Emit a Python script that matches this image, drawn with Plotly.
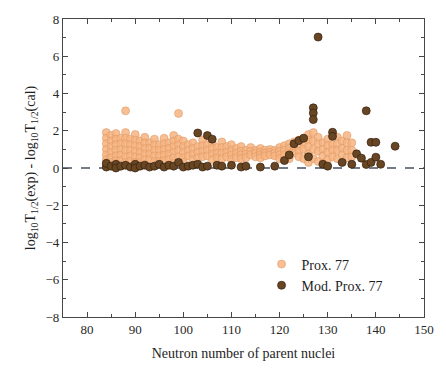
import plotly.graph_objects as go

# Prox. 77 : neutron number and deviation values
prox_n = [84,84,84,84,84,84,84, 85,85,85,85,85,85, 86,86,86,86,86,86,86, 87,87,87,87,87,
          88,88,88,88,88,88,88, 89,89,89,89,89, 90,90,90,90,90,90, 91,91,91,91,91,
          92,92,92,92,92,92, 93,93,93,93, 94,94,94,94,94, 95,95,95,95, 96,96,96,96,96,
          97,97,97,97, 98,98,98,98,98,98, 99,99,99,99,99, 100,100,100,100,100,
          101,101,101, 102,102,102,102, 103,103,103, 104,104,104,104, 105,105,105,
          106,106,106,106, 107,107,107, 108,108,108,108, 109,109,109,
          110,110,110,110, 111,111,111, 112,112,112,112, 113,113,113, 114,114,114,
          115,115,115, 116,116,116,116, 117,117,117, 118,118,118, 119,119,119,
          120,120,120,120, 121,121,121, 122,122,122,122, 123,123,123,
          124,124,124,124, 125,125,125,125, 126,126,126,126,126, 127,127,127,127,
          128,128,128,128, 129,129,129,129, 130,130,130,130, 131,131,131,
          132,132,132,132, 133,133,133, 134,134,134,134, 135,135,135]
prox_y = [1.9,1.6,1.3,1.0,0.7,0.45,0.2, 1.75,1.45,1.15,0.85,0.55,0.3, 1.85,1.55,1.25,0.95,0.65,0.4,0.15, 1.6,1.3,1.0,0.7,0.4,
          3.07,1.9,1.6,1.3,0.95,0.6,0.3, 1.55,1.25,0.95,0.65,0.35, 1.8,1.5,1.2,0.9,0.6,0.3, 1.45,1.15,0.85,0.55,0.3,
          1.65,1.35,1.05,0.75,0.45,0.2, 1.35,1.05,0.75,0.45, 1.55,1.25,0.95,0.65,0.35, 1.25,0.95,0.65,0.35, 1.6,1.3,1.0,0.7,0.4,
          1.35,1.05,0.75,0.45, 1.75,1.45,1.15,0.85,0.55,0.25, 2.93,1.55,1.25,0.95,0.6, 1.45,1.15,0.85,0.55,0.3,
          1.25,0.95,0.65, 1.35,1.05,0.75,0.45, 1.15,0.85,0.55, 1.5,1.2,0.9,0.6, 1.25,0.95,0.65,
          1.35,1.05,0.75,0.45, 1.1,0.8,0.55, 1.4,1.1,0.8,0.5, 1.15,0.85,0.6,
          1.25,0.95,0.7,0.45, 1.05,0.8,0.55, 1.15,0.9,0.7,0.5, 0.95,0.75,0.55, 1.1,0.9,0.7,
          0.95,0.8,0.6, 1.05,0.85,0.7,0.55, 0.95,0.8,0.65, 1.0,0.85,0.7, 0.95,0.8,0.65,
          1.1,0.9,0.7,0.5, 1.2,0.95,0.7, 1.3,1.05,0.8,0.5, 1.4,1.1,0.8,
          1.5,1.2,0.9,0.6, 1.6,1.3,1.0,0.5, 1.8,1.5,1.15,0.75,0.3, 1.9,1.45,1.0,0.5,
          1.65,1.3,0.9,0.35, 1.35,1.0,0.65,0.25, 1.55,1.2,0.85,0.45, 1.25,0.95,0.6,
          1.65,1.3,0.95,0.5, 1.45,1.05,0.7, 1.75,1.35,0.95,0.55, 1.35,0.95,0.6]

# Mod. Prox. 77
mod_n = [84,84,85,86,86,87,88,89,90,90,91,92,93,94,95,96,97,98,99,100,101,102,
         103,103,104,105,105,106,107,108,110,112,113,116,119,121,122,123,124,125,126,
         127,127,127,128,129,130,131,131,133,135,136,137,138,138,139,139,140,140,141,144]
mod_y = [0.05,0.25,0.1,0.2,0.0,0.1,0.15,0.05,0.2,0.0,0.1,0.15,0.05,0.1,0.2,0.05,0.15,0.1,0.3,0.05,0.1,0.15,
         1.88,0.2,0.05,1.74,0.1,1.55,0.15,0.1,0.15,0.05,0.1,0.05,0.1,0.4,0.7,1.3,1.47,1.6,0.6,
         3.23,2.95,2.6,7.03,0.2,0.1,1.92,1.7,0.3,0.2,0.76,0.53,3.07,0.19,1.38,0.3,1.38,0.58,0.2,1.17]

x_ticks = [80, 90, 100, 110, 120, 130, 140, 150]
y_ticks = [-8, -6, -4, -2, 0, 2, 4, 6, 8]

serif = "Liberation Serif"

fig = go.Figure()
fig.add_trace(go.Scatter(
    x=prox_n, y=prox_y, mode="markers", name="Prox. 77",
    marker=dict(size=8, color="rgba(246,180,128,0.85)",
                line=dict(color="rgba(220,150,100,0.8)", width=0.7)),
))
fig.add_trace(go.Scatter(
    x=mod_n, y=mod_y, mode="markers", name="Mod. Prox. 77",
    marker=dict(size=8, color="rgb(105,70,35)",
                line=dict(color="rgb(50,32,15)", width=0.7)),
))

fig.add_shape(type="line", xref="paper", yref="y", x0=0, x1=1, y0=0, y1=0,
              line=dict(color="rgb(70,80,95)", width=1.3, dash="dash"), layer="below")

axis_common = dict(
    showline=True, linecolor="rgb(70,70,70)", linewidth=1.2, mirror="ticks",
    ticks="inside", ticklen=5, tickwidth=1, tickcolor="rgb(70,70,70)",
    showgrid=False, zeroline=False,
    tickfont=dict(family=serif, size=13, color="rgb(40,40,40)"),
)

fig.update_layout(
    width=446, height=371,
    margin=dict(l=63, r=13, t=18, b=54),
    paper_bgcolor="white", plot_bgcolor="white",
    font=dict(family=serif, color="rgb(30,30,30)"),
    xaxis=dict(range=[75, 150], tickvals=x_ticks,
               minor=dict(dtick=5, ticks="inside", ticklen=3, tickcolor="rgb(70,70,70)"),
               title=dict(text="Neutron number of parent nuclei",
                          font=dict(family=serif, size=14), standoff=12),
               **axis_common),
    yaxis=dict(range=[-8, 8], tickvals=y_ticks,
               minor=dict(dtick=1, ticks="inside", ticklen=3, tickcolor="rgb(70,70,70)"),
               title=dict(text="log<sub>10</sub>T<sub>1/2</sub>(exp) - log<sub>10</sub>T<sub>1/2</sub>(cal)",
                          font=dict(family=serif, size=14), standoff=6),
               **axis_common),
    legend=dict(x=0.55, y=0.23, xanchor="left", yanchor="top",
                bgcolor="rgba(0,0,0,0)", font=dict(family=serif, size=14),
                itemsizing="trace", tracegroupgap=0),
    showlegend=True,
)

fig.write_html("out.html")
